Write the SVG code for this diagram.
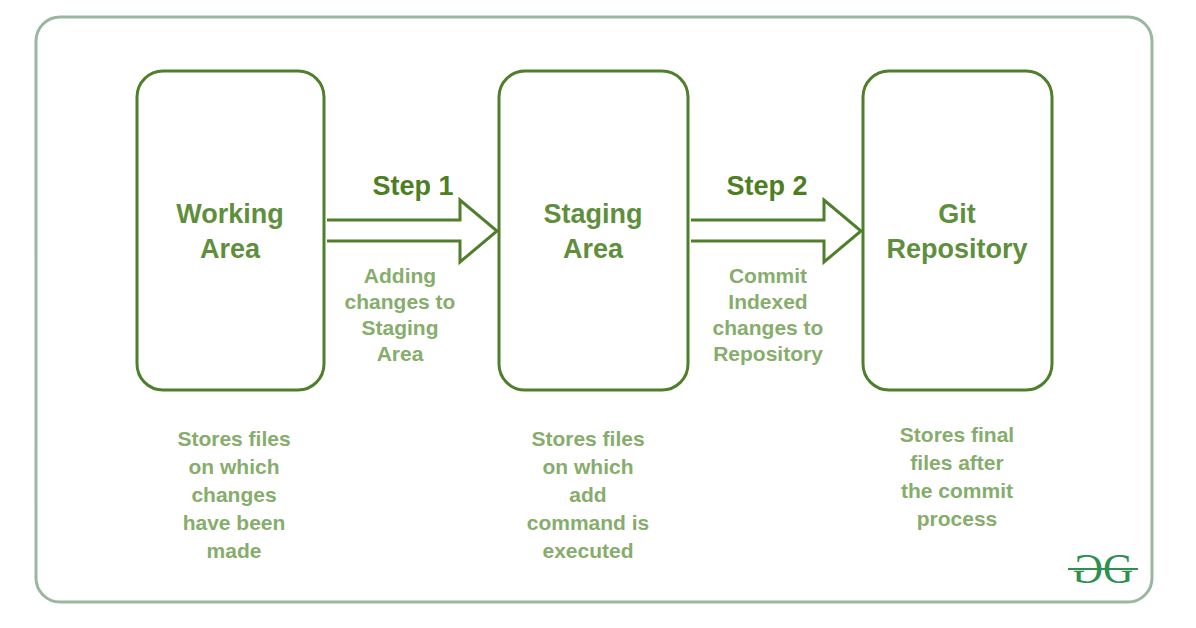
<svg xmlns="http://www.w3.org/2000/svg" width="1196" height="628" viewBox="0 0 1196 628">
<style>
.box{fill:#fff;stroke:#4f7f2a;stroke-width:3}
.lbl{font-family:"Liberation Sans",Arial,sans-serif;font-weight:bold;font-size:27px;fill:#5f8f3c;text-anchor:middle}
.step{font-family:"Liberation Sans",Arial,sans-serif;font-weight:bold;font-size:27px;fill:#4d7f22;text-anchor:middle}
.desc{font-family:"Liberation Sans",Arial,sans-serif;font-weight:bold;font-size:21px;fill:#86ad6c;text-anchor:middle}
.arrow{fill:#fff;stroke:#4f7f2a;stroke-width:3;stroke-linejoin:miter}
.logo{font-family:"Liberation Serif",serif;font-size:42px;fill:#2f8f4f}
</style>
<rect width="1196" height="628" fill="#fff"/>
<rect x="36" y="17" width="1116" height="585" rx="24" fill="#fff" stroke="#9ab8a0" stroke-width="3"/>
<g id="connectors">
<path class="arrow" d="M327,220 H460 V200 L497,231 L460,262 V241 H327"/>
<path class="arrow" d="M691,220 H824 V200 L861,231 L824,262 V241 H691"/>
<text class="step" x="413" y="195">Step 1</text>
<text class="step" x="767" y="195">Step 2</text>
<text class="desc" x="400" y="283">Adding</text>
<text class="desc" x="400" y="309">changes to</text>
<text class="desc" x="400" y="335">Staging</text>
<text class="desc" x="400" y="361">Area</text>
<text class="desc" x="768" y="283">Commit</text>
<text class="desc" x="768" y="309">Indexed</text>
<text class="desc" x="768" y="335">changes to</text>
<text class="desc" x="768" y="361">Repository</text>
</g>
<g id="working">
<rect class="box" x="137" y="71" width="187" height="319" rx="26"/>
<text class="lbl" x="230" y="223">Working</text>
<text class="lbl" x="230" y="258">Area</text>
<text class="desc" x="234" y="446">Stores files</text>
<text class="desc" x="234" y="474">on which</text>
<text class="desc" x="234" y="502">changes</text>
<text class="desc" x="234" y="530">have been</text>
<text class="desc" x="234" y="558">made</text>
</g>
<g id="staging">
<rect class="box" x="499" y="71" width="189" height="319" rx="26"/>
<text class="lbl" x="593" y="223">Staging</text>
<text class="lbl" x="593" y="258">Area</text>
<text class="desc" x="588" y="446">Stores files</text>
<text class="desc" x="588" y="474">on which</text>
<text class="desc" x="588" y="502">add</text>
<text class="desc" x="588" y="530">command is</text>
<text class="desc" x="588" y="558">executed</text>
</g>
<g id="git">
<rect class="box" x="863" y="71" width="189" height="319" rx="26"/>
<text class="lbl" x="957" y="223">Git</text>
<text class="lbl" x="957" y="258">Repository</text>
<text class="desc" x="957" y="442">Stores final</text>
<text class="desc" x="957" y="470">files after</text>
<text class="desc" x="957" y="498">the commit</text>
<text class="desc" x="957" y="526">process</text>
</g>
<g id="logo">
<text class="logo" x="-1103" y="583" transform="scale(-1,1)">G</text>
<text class="logo" x="1103" y="583">G</text>
<line x1="1068" y1="569" x2="1138" y2="569" stroke="#2f8f4f" stroke-width="2"/>
</g>
</svg>
